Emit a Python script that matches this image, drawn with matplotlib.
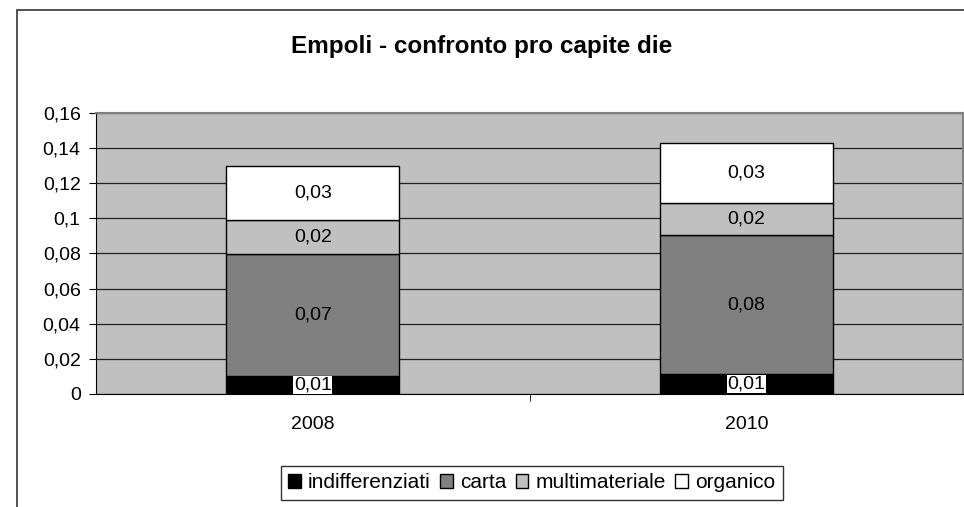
import numpy as np
import matplotlib.pyplot as plt
from matplotlib.patches import Rectangle

plt.rcParams['font.family'] = ['Liberation Sans', 'DejaVu Sans']

years = ['2008', '2010']
series = ['indifferenziati', 'carta', 'multimateriale', 'organico']
indifferenziati = [0.0105, 0.0114]
carta = [0.0692, 0.0791]
multimateriale = [0.0196, 0.0182]
organico = [0.0305, 0.0341]
colors = ['#000000', '#808080', '#C0C0C0', '#FFFFFF']

fig = plt.figure(figsize=(9.64, 5.07), dpi=100)

# outer chart frame (cropped on right / bottom)
fig.patches.append(Rectangle((17 / 964, -0.1), 2, (497 / 507) + 0.1,
                             transform=fig.transFigure, fill=False,
                             edgecolor='#333333', linewidth=1.2))

ax = fig.add_axes([96 / 964, 1 - 394 / 507, (963 - 96) / 964, (394 - 113) / 507])
ax.set_facecolor('#C0C0C0')

x = np.arange(len(years))
bottom = np.zeros(len(years))
for name, vals, col in zip(series, [indifferenziati, carta, multimateriale, organico], colors):
    ax.bar(x, vals, width=0.4, bottom=bottom, color=col, edgecolor='black',
           linewidth=1, label=name, zorder=3)
    for xi, v, b in zip(x, vals, bottom):
        lab = f'{v:.2f}'.replace('.', ',')
        bbox = dict(facecolor='white', edgecolor='none', pad=0.5) if col == '#000000' else None
        ax.text(xi, b + v / 2, lab, ha='center', va='center', fontsize=14,
                color='black', bbox=bbox, zorder=4)
    bottom += np.array(vals)

ax.set_xlim(-0.5, 1.5)
ax.set_ylim(0, 0.16)
ax.set_yticks(np.arange(0, 0.161, 0.02))
ax.set_yticklabels(['0'] + [f'{t:.2f}'.rstrip('0').replace('.', ',') for t in np.arange(0.02, 0.161, 0.02)],
                   fontsize=14)
ax.yaxis.grid(True, color='#202020', linewidth=0.9, zorder=0)
ax.set_axisbelow(True)

ax.set_xticks(x)
ax.set_xticklabels(years, fontsize=14)
ax.tick_params(axis='x', length=0, pad=16)
ax.set_xticks([0.5], minor=True)
ax.tick_params(axis='x', which='minor', length=5, color='black')
ax.tick_params(axis='y', length=5, color='black', pad=6)

for s in ['top', 'right']:
    ax.spines[s].set_color('#808080')
    ax.spines[s].set_linewidth(1.5)
ax.spines['left'].set_color('black')
ax.spines['bottom'].set_color('black')

fig.text(482 / 964, 1 - 47 / 507, 'Empoli - confronto pro capite die',
         ha='center', va='center', fontsize=17.5, fontweight='bold')

leg = fig.legend(loc='upper left', bbox_to_anchor=(281 / 964, 1 - 466 / 507), ncol=4,
                 fontsize=15, handlelength=0.6, handleheight=0.6, handletextpad=0.35,
                 columnspacing=0.45, borderpad=0.35, borderaxespad=0, frameon=True, fancybox=False)
leg.get_frame().set_edgecolor('black')
leg.get_frame().set_linewidth(1)

fig.savefig('out.png', dpi=100)
